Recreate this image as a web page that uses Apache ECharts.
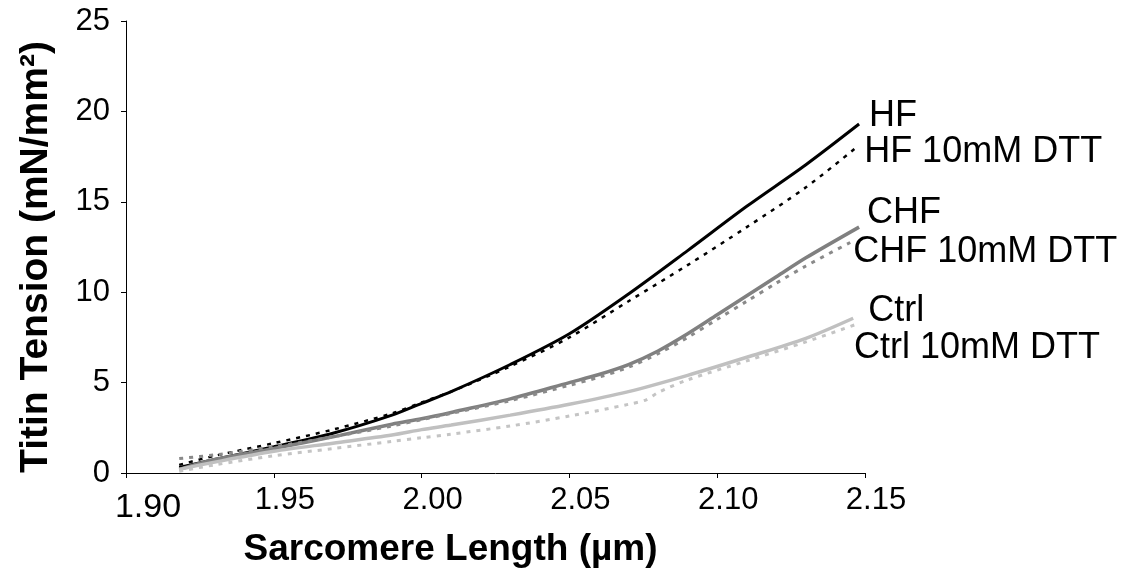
<!DOCTYPE html>
<html><head><meta charset="utf-8">
<script src="https://cdn.jsdelivr.net/npm/echarts@6/dist/echarts.min.js"></script>
<style>html,body{margin:0;padding:0;background:#fff}#c{width:1134px;height:581px}</style>
</head><body><div id="c"></div>
<script>
const xTicks = [1.90, 1.95, 2.00, 2.05, 2.10, 2.15];
const yTicks = [0, 5, 10, 15, 20, 25];
const seriesNames = ['HF', 'HF 10mM DTT', 'CHF', 'CHF 10mM DTT', 'Ctrl', 'Ctrl 10mM DTT'];

const hfX    = [1.918, 1.93, 1.95, 1.97, 1.99, 2.00, 2.01, 2.03, 2.05, 2.07, 2.09, 2.11, 2.13, 2.148];
const hfY    = [0.3, 0.75, 1.45, 2.2, 3.2, 3.85, 4.5, 6.0, 7.7, 9.9, 12.3, 14.75, 17.05, 19.3];
const hfDttX = [1.918, 1.93, 1.95, 1.97, 1.99, 2.00, 2.01, 2.03, 2.05, 2.07, 2.09, 2.11, 2.13, 2.147];
const hfDttY = [0.45, 0.95, 1.65, 2.4, 3.3, 3.9, 4.5, 5.9, 7.5, 9.5, 11.5, 13.6, 15.8, 18.0];
const chfX    = [1.918, 1.93, 1.95, 1.97, 1.99, 2.00, 2.01, 2.03, 2.05, 2.06, 2.07, 2.08, 2.09, 2.10, 2.11, 2.12, 2.13, 2.148];
const chfY    = [0.2, 0.75, 1.35, 2.0, 2.7, 3.0, 3.35, 4.1, 5.0, 5.45, 6.0, 6.75, 7.7, 8.75, 9.8, 10.85, 11.9, 13.6];
const chfDttX = [1.918, 1.93, 1.95, 1.97, 1.99, 2.00, 2.01, 2.03, 2.05, 2.06, 2.07, 2.08, 2.09, 2.10, 2.11, 2.12, 2.13, 2.145];
const chfDttY = [0.8, 1.0, 1.45, 2.0, 2.6, 2.95, 3.3, 4.0, 4.85, 5.3, 5.85, 6.6, 7.5, 8.5, 9.5, 10.5, 11.45, 12.75];
const ctrlX    = [1.918, 1.93, 1.95, 1.97, 1.99, 2.00, 2.01, 2.03, 2.05, 2.07, 2.09, 2.11, 2.13, 2.146];
const ctrlY    = [0.2, 0.6, 1.2, 1.65, 2.1, 2.4, 2.65, 3.2, 3.8, 4.5, 5.4, 6.4, 7.45, 8.56];
const ctrlDttX = [1.918, 1.93, 1.95, 1.97, 1.99, 2.00, 2.01, 2.03, 2.05, 2.07, 2.076, 2.08, 2.09, 2.11, 2.13, 2.148];
const ctrlDttY = [0.1, 0.45, 0.95, 1.35, 1.75, 1.95, 2.15, 2.6, 3.15, 3.8, 4.05, 4.45, 5.15, 6.2, 7.25, 8.28];

const FONT = '"Liberation Sans", Arial, sans-serif';
const zip = (xs, ys) => xs.map((x, i) => [x, ys[i]]);

function mk(name, xs, ys, color, dashed, width, off) {
  return {
    name, type: 'line', data: zip(xs, ys), showSymbol: false, symbol: 'none',
    smooth: 0.3, clip: false,
    lineStyle: { color, width, type: dashed ? [4, 6] : 'solid', cap: 'butt' },
    endLabel: {
      show: true, formatter: name, distance: 0, offset: off,
      fontFamily: FONT, fontSize: 36, color: '#000', align: 'left', verticalAlign: 'middle'
    },
    z: dashed ? 3 : 2
  };
}

const chart = echarts.init(document.getElementById('c'), null, { renderer: 'canvas' });
chart.setOption({
  animation: false,
  backgroundColor: '#fff',
  grid: { left: 126, right: 269, top: 21, bottom: 108, containLabel: false },
  xAxis: {
    type: 'value', min: xTicks[0], max: xTicks[xTicks.length - 1], interval: 0.05,
    name: 'Sarcomere Length (µm)', nameLocation: 'middle', nameGap: 58,
    nameTextStyle: { fontFamily: FONT, fontSize: 37, fontWeight: 'bold', color: '#000', padding: [0, 90, 0, 0] },
    axisLine: { lineStyle: { color: '#000', width: 1 } },
    axisTick: { show: true, length: 5, lineStyle: { color: '#000' } },
    splitLine: { show: false },
    axisLabel: {
      fontFamily: FONT, fontSize: 31, color: '#000', margin: 12, padding: [0, 0, 0, 22],
      formatter: v => Math.abs(v - xTicks[0]) < 1e-6 ? '{big|' + v.toFixed(2) + '}' : v.toFixed(2),
      rich: { big: { fontFamily: FONT, fontSize: 34, color: '#000', padding: [6, 0, 0, 22] } }
    }
  },
  yAxis: {
    type: 'value', min: yTicks[0], max: yTicks[yTicks.length - 1], interval: 5,
    name: 'Titin Tension (mN/mm²)', nameLocation: 'middle', nameGap: 70,
    nameTextStyle: { fontFamily: FONT, fontSize: 39, fontWeight: 'bold', color: '#000', padding: [0, 20, 0, 0] },
    axisLine: { show: true, lineStyle: { color: '#000', width: 1 } },
    axisTick: { show: true, length: 5, lineStyle: { color: '#000' } },
    splitLine: { show: false },
    axisLabel: { fontFamily: FONT, fontSize: 31, color: '#000', margin: 16 }
  },
  series: [
    mk(seriesNames[0], hfX, hfY, '#000000', false, 3, [10, -7.5]),
    mk(seriesNames[1], hfDttX, hfDttY, '#000000', true, 2.5, [8, 4.5]),
    mk(seriesNames[2], chfX, chfY, '#808080', false, 3.5, [8, -14.5]),
    mk(seriesNames[3], chfDttX, chfDttY, '#8a8a8a', true, 3, [3, 9.5]),
    mk(seriesNames[4], ctrlX, ctrlY, '#c0c0c0', false, 3.5, [15, -7.5]),
    mk(seriesNames[5], ctrlDttX, ctrlDttY, '#c4c4c4', true, 3, [-5, 24.5])
  ]
});
</script></body></html>
